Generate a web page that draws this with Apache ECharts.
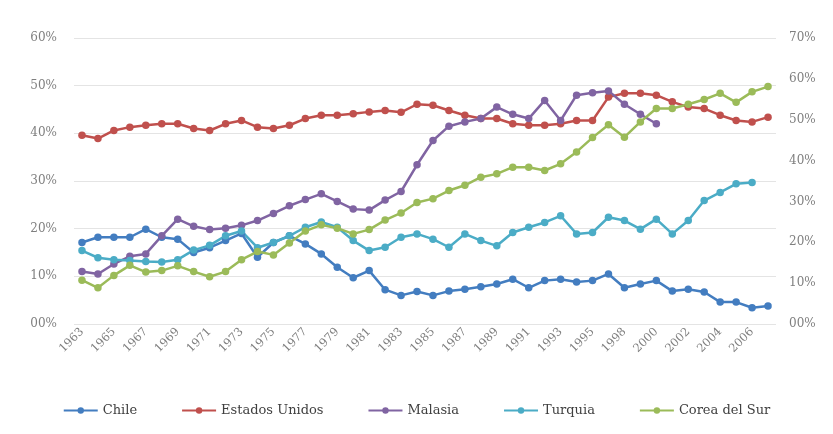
<!DOCTYPE html>
<html>
<head>
<meta charset="utf-8">
<script src="https://cdn.jsdelivr.net/npm/echarts@6/dist/echarts.min.js"></script>
<style>
html,body{margin:0;padding:0;background:#fff;}
#c{width:833px;height:434px;}
</style>
</head>
<body>
<div id="c"></div>
<script>
const years = ['1963','1964','1965','1966','1967','1968','1969','1970','1971','1972','1973','1974','1975','1976','1977','1978','1979','1980','1981','1982','1983','1984','1985','1986','1987','1988','1989','1990','1991','1992','1993','1994','1995','1996','1998','1999','2000','2001','2002','2003','2004','2005','2006','2007'];

const chile = [17.1,18.2,18.2,18.2,19.9,18.2,17.8,15.0,16.0,17.5,19.0,14.0,17.1,18.5,16.8,14.7,11.9,9.7,11.2,7.2,6.0,6.8,6.0,6.9,7.3,7.8,8.4,9.4,7.6,9.1,9.4,8.8,9.1,10.5,7.6,8.4,9.1,6.9,7.3,6.7,4.6,4.6,3.4,3.8];
const estadosUnidos = [39.6,38.9,40.6,41.3,41.7,42.0,42.0,41.0,40.6,42.0,42.7,41.3,41.0,41.7,43.1,43.8,43.8,44.1,44.5,44.8,44.4,46.1,45.9,44.8,43.8,43.1,43.1,42.0,41.7,41.7,42.0,42.7,42.7,47.6,48.4,48.4,48.0,46.6,45.5,45.2,43.8,42.7,42.4,43.4];
const malasia = [11.0,10.5,12.6,14.2,14.7,18.5,22.0,20.5,19.8,20.1,20.7,21.7,23.2,24.8,26.1,27.3,25.7,24.1,23.9,26.0,27.8,33.4,38.5,41.5,42.4,43.1,45.5,44.0,43.1,46.9,42.7,48.0,48.5,48.9,46.1,44.0,42.0,null,null,null,null,null,null,null];
const turquia = [15.4,13.9,13.5,13.3,13.1,13.0,13.5,15.5,16.5,18.5,19.5,16.0,17.1,18.5,20.3,21.4,20.3,17.5,15.4,16.1,18.2,18.9,17.8,16.1,18.9,17.5,16.4,19.2,20.3,21.3,22.7,18.9,19.2,22.4,21.7,19.9,22.0,18.9,21.7,25.9,27.6,29.4,29.7,null];
const coreaDelSur = [9.2,7.6,10.2,12.3,10.9,11.2,12.2,11.0,9.9,11.0,13.5,15.2,14.5,17.0,19.5,20.8,20.1,18.9,19.8,21.8,23.3,25.5,26.3,28.0,29.1,30.8,31.5,32.9,32.9,32.2,33.6,36.1,39.1,41.8,39.2,42.4,45.2,45.2,46.1,47.1,48.4,46.5,48.7,49.8];

const leftTicks = {min:0, max:60, interval:10};
const rightTicks = {min:0, max:70, interval:10};

const names = ['Chile','Estados Unidos','Malasia','Turquia','Corea del Sur'];
const colors = ['#437dc0','#c0504d','#8064a2','#4bacc6','#9bbb59'];
const datas = [chile, estadosUnidos, malasia, turquia, coreaDelSur];

const pct = v => (v < 10 ? '0' : '') + v + '%';
const FONT = '"DejaVu Serif", serif';

const chart = echarts.init(document.getElementById('c'), null, {renderer:'canvas'});
chart.setOption({
  animation:false,
  backgroundColor:'#ffffff',
  grid:{left:74, right:57, top:38, bottom:110, containLabel:false},
  legend:{
    top:399, left:'center',
    itemWidth:34, itemHeight:8, itemGap:44,
    textStyle:{color:'#404040', fontSize:13, fontFamily:FONT},
    data:names
  },
  xAxis:{
    type:'category', data:years, boundaryGap:true,
    axisLine:{show:false}, axisTick:{show:false},
    axisLabel:{interval:1, rotate:45, color:'#7f7f7f', fontSize:11.5, fontFamily:FONT, margin:6}
  },
  yAxis:[
    {type:'value', min:leftTicks.min, max:leftTicks.max, interval:leftTicks.interval,
     axisLine:{show:false}, axisTick:{show:false},
     splitLine:{lineStyle:{color:'#e4e4e4', width:1}},
     axisLabel:{formatter:pct, color:'#7f7f7f', fontSize:12, fontFamily:FONT, margin:17}},
    {type:'value', min:rightTicks.min, max:rightTicks.max, interval:rightTicks.interval,
     position:'right', alignTicks:false,
     axisLine:{show:false}, axisTick:{show:false}, splitLine:{show:false},
     axisLabel:{formatter:pct, color:'#7f7f7f', fontSize:12, fontFamily:FONT, margin:13}}
  ],
  series: names.map((n,i)=>({
    name:n, type:'line', yAxisIndex:0, data:datas[i],
    symbol:'circle', symbolSize:7.5, showSymbol:true,
    lineStyle:{color:colors[i], width:2.5},
    itemStyle:{color:colors[i]},
    connectNulls:false
  }))
});
</script>
</body>
</html>
